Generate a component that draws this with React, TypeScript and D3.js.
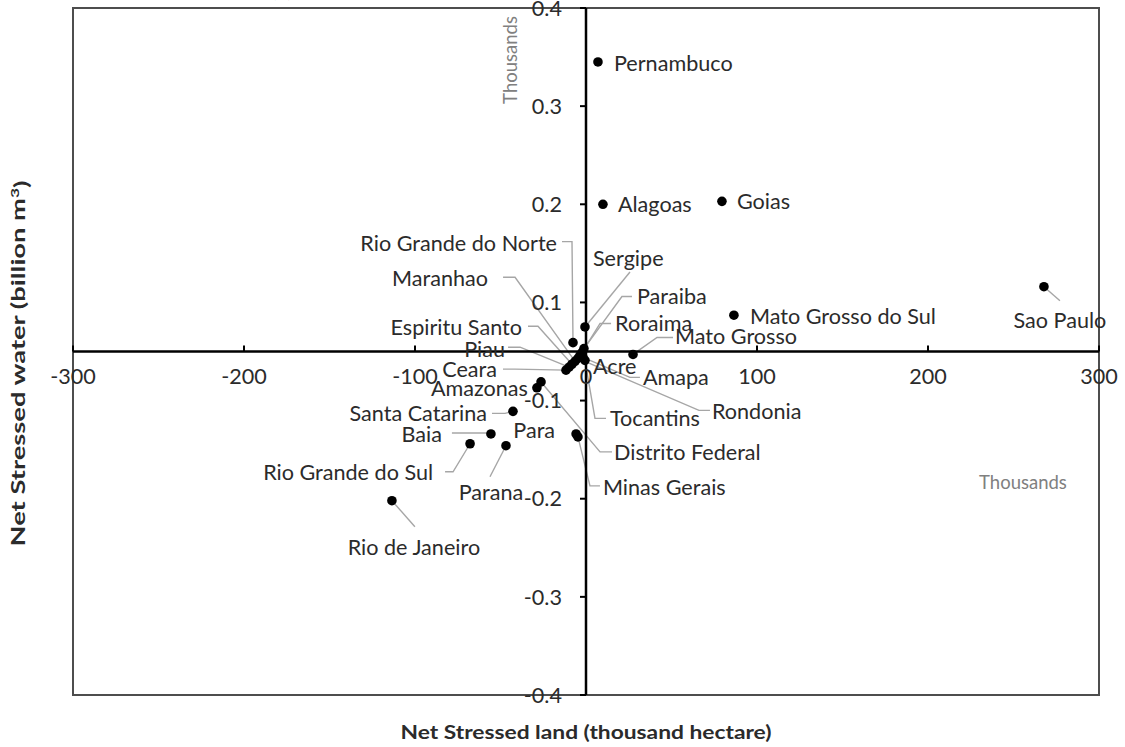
import React from "react";
import * as d3 from "d3";

// ---- data ----
const states = [
  "Pernambuco", "Alagoas", "Goias", "Sao Paulo", "Mato Grosso do Sul", "Mato Grosso",
  "Sergipe", "Rio Grande do Norte", "Paraiba", "Roraima", "Acre", "Amapa", "Tocantins",
  "Rondonia", "Maranhao", "Espiritu Santo", "Piau", "Ceara", "Distrito Federal", "Amazonas",
  "Santa Catarina", "Baia", "Rio Grande do Sul", "Parana", "Rio de Janeiro", "Minas Gerais", "Para",
];
const netStressedLand = [
  7.0, 9.9, 79.5, 267.8, 86.5, 27.5,
  -0.6, -7.6, -1.2, -2.3, -3.5, -1.8, -0.6,
  -4.7, -6.4, -8.2, -9.9, -11.7, -26.3, -28.7,
  -42.7, -55.6, -67.8, -46.8, -113.5, -4.7, -5.8,
];
const netStressedWater = [
  0.295, 0.150, 0.153, 0.066, 0.037, -0.003,
  0.025, 0.009, 0.003, -0.001, -0.004, -0.006, -0.009,
  -0.007, -0.010, -0.013, -0.016, -0.019, -0.031, -0.037,
  -0.061, -0.084, -0.094, -0.096, -0.152, -0.087, -0.084,
];
const xTickValues = [-300, -200, -100, 0, 100, 200, 300];
const xTickLabels = ["-300", "-200", "-100", "0", "100", "200", "300"];
const yTickValues = [0.35, 0.25, 0.15, 0.05, -0.05, -0.15, -0.25, -0.35];
const yTickLabels = ["0.4", "0.3", "0.2", "0.1", "-0.1", "-0.2", "-0.3", "-0.4"];

// ---- label layout (pixel offsets from each point) ----
type Lab = { dx: number; dy: number; anchor: string; leader: number[][] | null };
const labelLayout: Lab[] = [
  { dx: 16, dy: 1, anchor: "start", leader: null },
  { dx: 15, dy: 0, anchor: "start", leader: null },
  { dx: 15, dy: 0, anchor: "start", leader: null },
  { dx: 16, dy: 33, anchor: "middle", leader: [[16, 14], [0, 0]] },
  { dx: 16, dy: 1, anchor: "start", leader: null },
  { dx: 42, dy: -18, anchor: "start", leader: [[40, -17], [24, -17], [0, 0]] },
  { dx: 8, dy: -69, anchor: "start", leader: [[45, -55], [0, 0]] },
  { dx: -16, dy: -99, anchor: "end", leader: [[-11, -101], [-1, -101], [0, 0]] },
  { dx: 53, dy: -52, anchor: "start", leader: [[48, -52], [38, -52], [0, 0]] },
  { dx: 33, dy: -29, anchor: "start", leader: [[29, -29], [18, -29], [0, 0]] },
  { dx: 13, dy: 11, anchor: "start", leader: null },
  { dx: 60, dy: 20, anchor: "start", leader: [[57, 20], [47, 20], [0, 0]] },
  { dx: 25, dy: 58, anchor: "start", leader: [[21, 58], [10, 58], [0, 0]] },
  { dx: 134, dy: 53, anchor: "start", leader: [[132, 52], [121, 52], [0, 0]] },
  { dx: -87, dy: -83, anchor: "end", leader: [[-72, -84], [-60, -84], [0, 0]] },
  { dx: -50, dy: -37, anchor: "end", leader: [[-44, -38], [-34, -38], [0, 0]] },
  { dx: -64, dy: -18, anchor: "end", leader: [[-61, -20], [-49, -20], [0, 0]] },
  { dx: -69, dy: -1, anchor: "end", leader: [[-63, -1], [-51, -1], [0, 0]] },
  { dx: 73, dy: 70, anchor: "start", leader: [[71, 70], [59, 70], [0, 0]] },
  { dx: -9, dy: 0, anchor: "end", leader: null },
  { dx: -26, dy: 2, anchor: "end", leader: [[-21, 2], [-8, 2], [0, 0]] },
  { dx: -49, dy: 0, anchor: "end", leader: [[-39, -1], [-5, -1], [0, 0]] },
  { dx: -37, dy: 28, anchor: "end", leader: [[-25, 28], [-17, 28], [0, 0]] },
  { dx: -15, dy: 47, anchor: "middle", leader: [[-16, 31], [0, 0]] },
  { dx: 22, dy: 47, anchor: "middle", leader: [[23, 26], [0, 0]] },
  { dx: 25, dy: 50, anchor: "start", leader: [[22, 49], [12, 49], [0, 0]] },
  { dx: -21, dy: -4, anchor: "end", leader: null },
];

const W = 1125;
const H = 747;
const left = 73, right = 1099, top = 8, bottom = 695;
const FONT = "Lato, 'Open Sans', sans-serif";
const TXT = "#2b2b2b";
const FS = 21.6;

export default function App() {
  const x = d3.scaleLinear().domain([-300, 300]).range([left, right]);
  const y = d3.scaleLinear().domain([-0.35, 0.35]).range([bottom, top]);
  const x0 = x(0);
  const y0 = y(0);
  const line = d3.line<number[]>().x((d) => d[0]).y((d) => d[1]);

  return (
    <svg width={W} height={H} style={{ position: "absolute", left: 0, top: 0, background: "#fff" }}
      fontFamily={FONT}>
      <rect x={0} y={0} width={W} height={H} fill="#fff" />
      <text x={282} y={-3} fontSize={22} textAnchor="middle" fill={TXT}>(a)</text>
      {/* plot frame */}
      <rect x={left} y={top} width={right - left} height={bottom - top} fill="none" stroke="#4d4d4d" strokeWidth={2} />

      {/* leader lines */}
      {states.map((s, i) => {
        const L = labelLayout[i];
        if (!L.leader) return null;
        const px = x(netStressedLand[i]);
        const py = y(netStressedWater[i]);
        const pts = L.leader.map((p) => [px + p[0], py + p[1]]);
        return <path key={"l" + s} d={line(pts) || ""} fill="none" stroke="#a6a6a6" strokeWidth={1.4} />;
      })}

      {/* axes */}
      <line x1={left} x2={right} y1={y0} y2={y0} stroke="#000" strokeWidth={2.5} />
      <line x1={x0} x2={x0} y1={top} y2={bottom} stroke="#000" strokeWidth={2.5} />
      {xTickValues.map((v, i) => (
        <g key={"xt" + v}>
          <line x1={x(v)} x2={x(v)} y1={y0} y2={y0 - 6} stroke="#000" strokeWidth={2} />
          <text x={x(v)} y={y0 + 32} fontSize={FS} textAnchor="middle" fill={TXT}>{xTickLabels[i]}</text>
        </g>
      ))}
      {yTickValues.map((v, i) => (
        <g key={"yt" + v}>
          <line x1={x0} x2={x0 - 6} y1={y(v)} y2={y(v)} stroke="#000" strokeWidth={2} />
          <text x={x0 - 24} y={y(v)} dy="0.36em" fontSize={FS} textAnchor="end" fill={TXT}>{yTickLabels[i]}</text>
        </g>
      ))}

      {/* points */}
      {states.map((s, i) => (
        <circle key={"p" + s} cx={x(netStressedLand[i])} cy={y(netStressedWater[i])} r={4.8} fill="#000" />
      ))}

      {/* data labels */}
      {states.map((s, i) => {
        const L = labelLayout[i];
        return (
          <text key={"t" + s} x={x(netStressedLand[i]) + L.dx} y={y(netStressedWater[i]) + L.dy} dy="0.36em"
            fontSize={FS} textAnchor={L.anchor} fill={TXT}>{s}</text>
        );
      })}

      {/* display unit labels */}
      <text transform={`translate(${x0 - 76},60) rotate(-90)`} fontSize={18.5} textAnchor="middle" dy="0.36em" fill="#808080">Thousands</text>
      <text x={1023} y={482} fontSize={18.5} textAnchor="middle" dy="0.36em" fill="#808080">Thousands</text>

      {/* axis titles */}
      <text x={x0} y={732} fontSize={19} fontWeight="bold" textAnchor="middle" dy="0.36em" fill={TXT}
        textLength={371} lengthAdjust="spacingAndGlyphs">
        Net Stressed land (thousand hectare)
      </text>
      <text transform={`translate(18,${y0 + 12}) rotate(-90)`} fontSize={19} fontWeight="bold" textAnchor="middle" dy="0.36em" fill={TXT}
        textLength={366} lengthAdjust="spacingAndGlyphs">
        Net Stressed water (billion m<tspan dy="-0.45em" fontSize={12}>3</tspan><tspan dy="0.45em">)</tspan>
      </text>
    </svg>
  );
}
